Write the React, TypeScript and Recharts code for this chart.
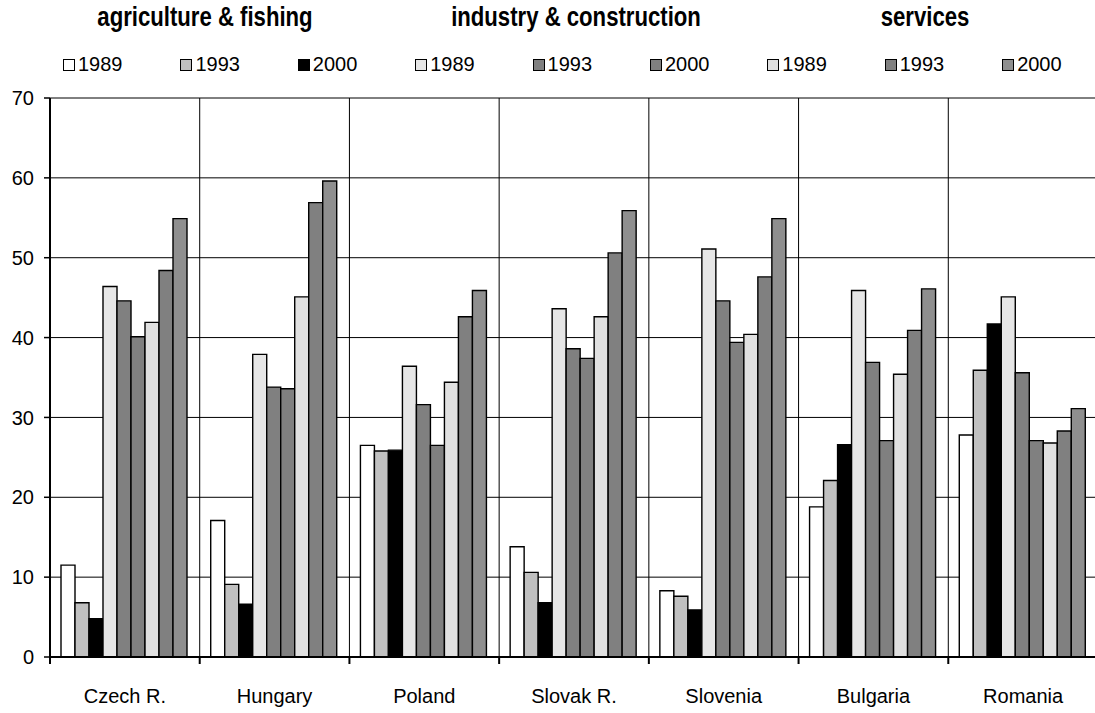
import { Bar, BarChart, CartesianGrid, XAxis, YAxis } from 'recharts';

const categories = ['Czech R.', 'Hungary', 'Poland', 'Slovak R.', 'Slovenia', 'Bulgaria', 'Romania'];
const agri1989 = [11.5, 17.1, 26.5, 13.8, 8.3, 18.8, 27.8];
const agri1993 = [6.8, 9.1, 25.8, 10.6, 7.6, 22.1, 35.9];
const agri2000 = [4.8, 6.6, 25.9, 6.8, 5.9, 26.6, 41.7];
const ind1989 = [46.4, 37.9, 36.4, 43.6, 51.1, 45.9, 45.1];
const ind1993 = [44.6, 33.8, 31.6, 38.6, 44.6, 36.9, 35.6];
const ind2000 = [40.1, 33.6, 26.5, 37.4, 39.4, 27.1, 27.1];
const serv1989 = [41.9, 45.1, 34.4, 42.6, 40.4, 35.4, 26.8];
const serv1993 = [48.4, 56.9, 42.6, 50.6, 47.6, 40.9, 28.3];
const serv2000 = [54.9, 59.6, 45.9, 55.9, 54.9, 46.1, 31.1];
const yTicks = [0, 10, 20, 30, 40, 50, 60, 70];
const sectors = ['agriculture & fishing', 'industry & construction', 'services'];

const series = [
  { key: 'agri1989', name: '1989', values: agri1989, fill: '#ffffff' },
  { key: 'agri1993', name: '1993', values: agri1993, fill: '#c0c0c0' },
  { key: 'agri2000', name: '2000', values: agri2000, fill: '#000000' },
  { key: 'ind1989', name: '1989', values: ind1989, fill: '#e6e6e6' },
  { key: 'ind1993', name: '1993', values: ind1993, fill: '#808080' },
  { key: 'ind2000', name: '2000', values: ind2000, fill: '#808080' },
  { key: 'serv1989', name: '1989', values: serv1989, fill: '#e0e0e0' },
  { key: 'serv1993', name: '1993', values: serv1993, fill: '#808080' },
  { key: 'serv2000', name: '2000', values: serv2000, fill: '#8f8f8f' },
];

const data = categories.map((name, i) => {
  const row: Record<string, string | number> = { name };
  series.forEach((s) => (row[s.key] = s.values[i]));
  return row;
});

const FONT = '"Liberation Sans", Arial, sans-serif';
const PLOT_W = 1048;
const BAND = PLOT_W / categories.length;

const CategoryTick = (props: any) => {
  const { x, y, payload, index } = props;
  const axisY = y - 8;
  return (
    <g>
      <line x1={x - BAND / 2} x2={x - BAND / 2} y1={axisY} y2={axisY + 7} stroke="#000" strokeWidth={2} />
      {index === categories.length - 1 && (
        <line x1={x + BAND / 2} x2={x + BAND / 2} y1={axisY} y2={axisY + 7} stroke="#000" strokeWidth={2} />
      )}
      <text x={x} y={y + 24} dy="0.71em" textAnchor="middle" fontSize={20} fontFamily={FONT} fill="#000">
        {payload.value}
      </text>
    </g>
  );
};

// page-anchored wrapper so the chart can run past the right edge like the original
const App = () => {
  return (
    <div
      style={{
        position: 'absolute',
        top: 0,
        left: 0,
        width: 1095,
        height: 713,
        overflow: 'hidden',
        fontFamily: FONT,
      }}
    >
      {sectors.map((s, i) => (
        <div
          key={s}
          style={{
            position: 'absolute',
            top: 2,
            left: [205, 576, 925][i] - 200,
            width: 400,
            textAlign: 'center',
            fontWeight: 'bold',
            fontSize: 27,
            lineHeight: '31px',
            transform: 'scaleX(0.82)',
            whiteSpace: 'nowrap',
          }}
        >
          {s}
        </div>
      ))}
      <div style={{ position: 'absolute', top: 53, left: 63, display: 'flex' }}>
        {series.map((s) => (
          <div key={s.key} style={{ width: 117.4, display: 'flex', alignItems: 'center', fontSize: 20 }}>
            <span
              style={{
                display: 'inline-block',
                width: 10,
                height: 10,
                background: s.fill,
                border: '1px solid #000',
                marginRight: 3,
              }}
            />
            {s.name}
          </div>
        ))}
      </div>
      <BarChart
        width={1100}
        height={705}
        data={data}
        margin={{ top: 90, right: 10, bottom: 0, left: 0 }}
        barCategoryGap={11}
        barGap={0}
        style={{ position: 'absolute', top: 8, left: 8 }}
      >
        <CartesianGrid
          stroke="#000"
          strokeWidth={1}
          verticalCoordinatesGenerator={({ offset }: any) =>
            categories.map((_, i) => offset.left + (i * offset.width) / categories.length)
          }
        />
        <XAxis
          dataKey="name"
          interval={0}
          height={56}
          axisLine={{ stroke: '#000', strokeWidth: 2 }}
          tickLine={false}
          tick={<CategoryTick />}
        />
        <YAxis
          domain={[0, 70]}
          ticks={yTicks}
          width={42}
          axisLine={{ stroke: '#000', strokeWidth: 2 }}
          tickLine={{ stroke: '#000', strokeWidth: 1.5 }}
          tickSize={6}
          tickMargin={10}
          tick={{ fontSize: 20, fill: '#000', fontFamily: FONT }}
        />
        {series.map((s) => (
          <Bar
            key={s.key}
            dataKey={s.key}
            name={s.name}
            fill={s.fill}
            stroke="#000"
            strokeWidth={1.4}
            isAnimationActive={false}
          />
        ))}
      </BarChart>
    </div>
  );
};

export default App;
